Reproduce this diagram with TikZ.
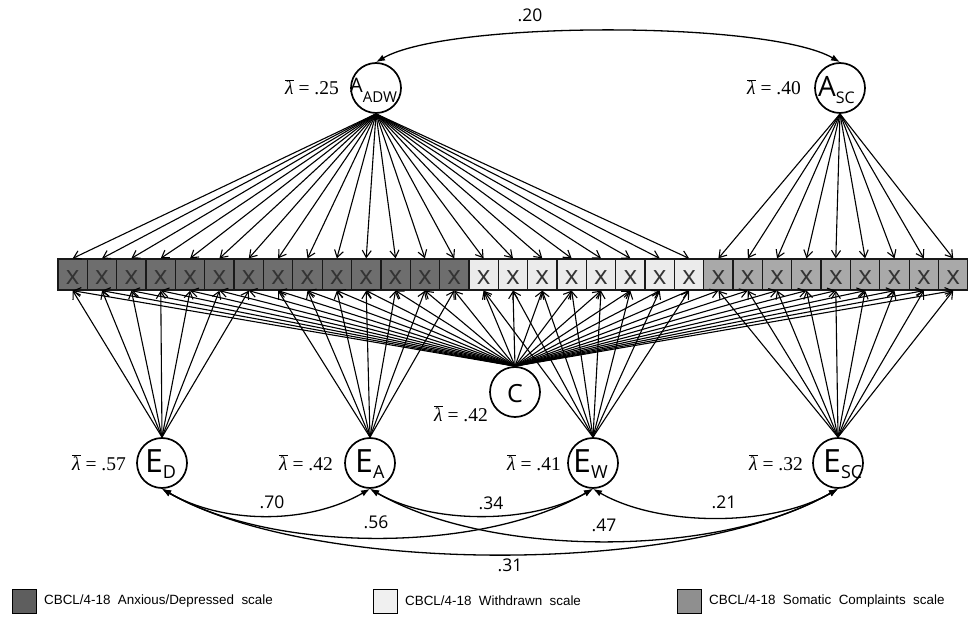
\documentclass[tikz,border=0pt]{standalone}
\usepackage{fontspec}
\setmainfont{Liberation Serif}
\setsansfont{Open Sans}
\newfontfamily\legfont{Liberation Sans}
\usetikzlibrary{arrows.meta}

\definecolor{boxdark}{HTML}{6E6E6E}
\definecolor{boxlight}{HTML}{EBEBEB}
\definecolor{boxmid}{HTML}{A9A9A9}
\definecolor{legdark}{HTML}{5E5E5E}
\definecolor{leglight}{HTML}{F0F0F0}
\definecolor{legmid}{HTML}{8F8F8F}

\newcommand{\latl}[5]{{\fontsize{#1}{#1}\selectfont #2}\raisebox{#5}{\fontsize{#3}{#3}\selectfont #4}}
\newcommand{\lamb}[1]{{\fontsize{19.5}{19.5}\selectfont$\overline{\mbox{\itshape λ}}$ = #1}}

\begin{document}
\begin{tikzpicture}[x=1pt,y=1pt,
  lat/.style={circle,draw,line width=1.7pt,minimum size=50pt,inner sep=0pt},
  lattxt/.style={font=\sffamily,inner sep=0pt,anchor=base west},
  itembox/.style={rectangle,draw=black!90,line width=1.3pt,minimum width=29.35pt,minimum height=31pt,inner sep=0pt,
    font=\sffamily\fontsize{26}{26}\selectfont,text=black!80,text height=21pt,text depth=0pt},
  load/.style={line width=1.1pt,-{Straight Barb[length=7pt,width=9pt]}},
  cov/.style={line width=1.3pt,{Latex[length=9pt,width=6.5pt]}-{Latex[length=9pt,width=6.5pt]}},
  num/.style={font=\sffamily\fontsize{17.5}{17.5}\selectfont,inner sep=0pt},
  lam/.style={inner sep=0pt,anchor=base east},
  legbox/.style={draw=black,line width=0.8pt,minimum width=24pt,minimum height=24pt,inner sep=0pt},
  legtxt/.style={font=\legfont\fontsize{13.4}{13.4}\selectfont,anchor=west,inner sep=0pt}]
\useasboundingbox (0,0) rectangle (968,-617);

% observed items
\foreach \i in {1,...,31}{
  \pgfmathsetmacro\bx{72.7+(\i-1)*29.35}
  \ifnum\i<15 \def\bc{boxdark}\else\ifnum\i<23 \def\bc{boxlight}\else\def\bc{boxmid}\fi\fi
  \node[itembox,fill=\bc] (b\i) at (\bx,-274.5) {x};
}

% latent variables
\node[lat] (AADW) at (376,-88) {};
\node[lat] (ASC) at (840,-88) {};
\node[lat] (C) at (515,-392) {};
\node[lat] (ED) at (162,-463) {};
\node[lat] (EA) at (370,-463) {};
\node[lat] (EW) at (593,-463) {};
\node[lat] (ESC) at (838,-463) {};

\node[lattxt] (AADWt) at (350,-93) {\latl{20}{A}{15}{ADW}{-10pt}};
\node[lattxt] (ASCt) at (818,-97) {\latl{28}{A}{16}{SC}{-7pt}};
\node[lattxt,anchor=base] (Ct) at (515,-402) {\fontsize{25}{25}\selectfont C};
\node[lattxt] (EDt) at (145,-472) {\latl{32}{E}{18}{D}{-6pt}};
\node[lattxt] (EAt) at (355,-472) {\latl{32}{E}{18}{A}{-6pt}};
\node[lattxt] (EWt) at (573,-472) {\latl{32}{E}{18}{W}{-6pt}};
\node[lattxt] (ESCt) at (823,-472) {\latl{32}{E}{18}{SC}{-6pt}};

% lambda labels
\node[lam] (lAADW) at (339,-95) {\lamb{.25}};
\node[lam] (lASC) at (801,-95) {\lamb{.40}};
\node[lam] (lC) at (488,-421) {\lamb{.42}};
\node[lam] (lED) at (126,-470) {\lamb{.57}};
\node[lam] (lEA) at (333,-470) {\lamb{.42}};
\node[lam] (lEW) at (561,-470) {\lamb{.41}};
\node[lam] (lESC) at (803,-470) {\lamb{.32}};

% loadings
\foreach \i in {1,...,22} \draw[load] (AADW.south) -- (b\i.north);
\foreach \i in {23,...,31} \draw[load] (ASC.south) -- (b\i.north);
\foreach \i in {1,...,31} \draw[load] (C.north) -- (b\i.south);
\foreach \i in {1,...,7} \draw[load] (ED.north) -- (b\i.south);
\foreach \i in {8,...,14} \draw[load] (EA.north) -- (b\i.south);
\foreach \i in {15,...,22} \draw[load] (EW.north) -- (b\i.south);
\foreach \i in {23,...,31} \draw[load] (ESC.north) -- (b\i.south);

% covariances
\draw[cov] (AADW.north) to[out=30,in=150,looseness=0.46] (ASC.north);
\draw[cov] (ED.south) to[out=-30,in=-150,looseness=0.88] (EA.south);
\draw[cov] (EA.south) to[out=-30,in=-150,looseness=0.82] (EW.south);
\draw[cov] (EW.south) to[out=-30,in=-150,looseness=0.8] (ESC.south);
\draw[cov] (ED.south) to[out=-30,in=-150,looseness=0.77] (EW.south);
\draw[cov] (EA.south) to[out=-30,in=-150,looseness=0.76] (ESC.south);
\draw[cov] (ED.south) to[out=-30,in=-150,looseness=0.66] (ESC.south);

\node[num] (n20) at (530,-15) {.20};
\node[num] (n70) at (272,-502) {.70};
\node[num] (n56) at (376,-522) {.56};
\node[num] (n34) at (491,-503) {.34};
\node[num] (n21) at (724,-502) {.21};
\node[num] (n47) at (604,-525) {.47};
\node[num] (n31) at (510,-565) {.31};

% legend
\node[legbox,fill=legdark] (L1) at (24,-601) {};
\node[legtxt] (L1t) at (44,-601) {CBCL/4-18\ \ Anxious/Depressed\ \ scale};
\node[legbox,fill=leglight] (L2) at (385,-601) {};
\node[legtxt] (L2t) at (405,-601) {CBCL/4-18\ \ Withdrawn\ \ scale};
\node[legbox,fill=legmid] (L3) at (689,-601) {};
\node[legtxt] (L3t) at (709,-601) {CBCL/4-18\ \ Somatic\ \ Complaints\ \ scale};
\end{tikzpicture}
\end{document}
